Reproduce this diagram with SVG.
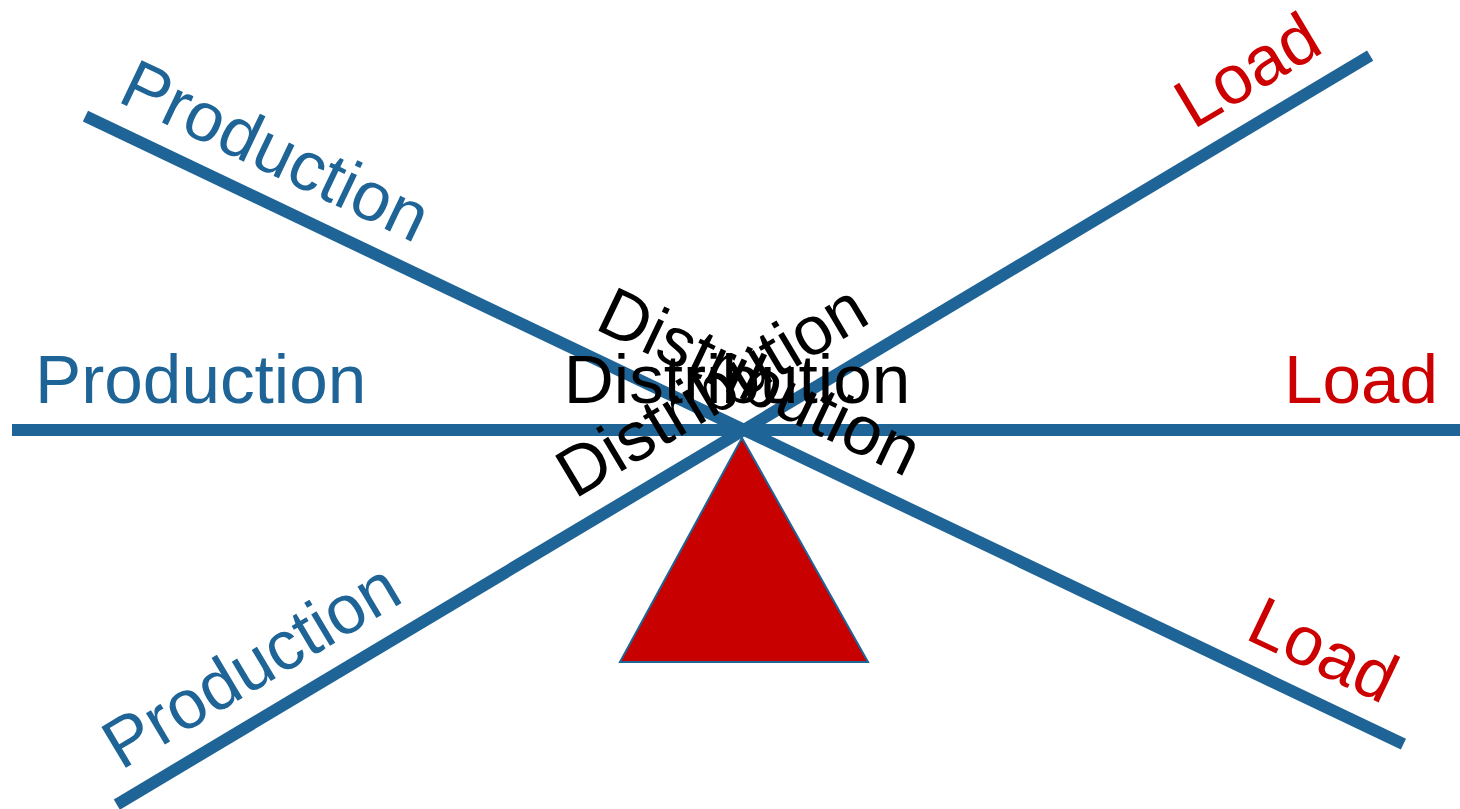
<svg xmlns="http://www.w3.org/2000/svg" width="1460" height="809" viewBox="0 0 1460 809">
<style>
.beam{stroke:#1F6496;stroke-width:12;fill:none}
.t{font-family:"Liberation Sans",Arial,sans-serif;font-size:69.3px}
.prod{fill:#1F6496}
.load{fill:#CC0000}
.dist{fill:#000000;text-anchor:middle}
</style>
<rect width="1460" height="809" fill="#ffffff"/>
<g id="connectors">
<line class="beam" x1="12" y1="430" x2="1474" y2="430"/>
<line class="beam" x1="14" y1="430" x2="1474" y2="430" transform="rotate(25.48 744 431)"/>
<line class="beam" x1="14" y1="430" x2="1474" y2="430" transform="rotate(-30.86 744 431)"/>
</g>
<g id="fulcrum">
<polygon points="742,438 620,662 868,662" fill="#C80000" stroke="#1F6496" stroke-width="2"/>
</g>
<g id="level">
<text class="t prod" x="35" y="403">Production</text>
<text class="t dist" x="737" y="403">Distribution</text>
<text class="t load" x="1284" y="403">Load</text>
</g>
<g id="tilt-right" transform="rotate(25.48 744 431)">
<text class="t prod" x="35" y="403">Production</text>
<text class="t dist" x="737" y="403">Distribution</text>
<text class="t load" x="1284" y="403">Load</text>
</g>
<g id="tilt-left" transform="rotate(-30.86 744 431)">
<text class="t prod" x="35" y="403">Production</text>
<text class="t dist" x="737" y="403">Distribution</text>
<text class="t load" x="1284" y="403">Load</text>
</g>
</svg>
